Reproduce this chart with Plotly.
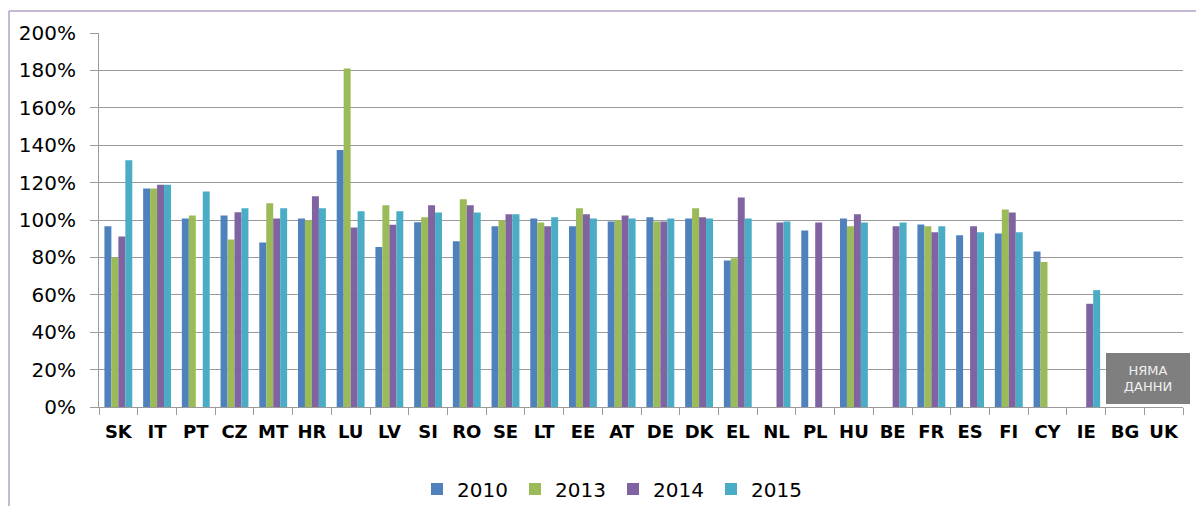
import plotly.graph_objects as go

categories = ["SK", "IT", "PT", "CZ", "MT", "HR", "LU", "LV", "SI", "RO", "SE", "LT", "EE", "AT",
              "DE", "DK", "EL", "NL", "PL", "HU", "BE", "FR", "ES", "FI", "CY", "IE", "BG", "UK"]

v2010 = [96.7, 116.8, 100.8, 102.4, 88.0, 100.8, 137.5, 85.5, 98.8, 88.7, 96.7, 100.8, 96.7, 99.2,
         101.5, 100.8, 78.4, None, 94.4, 100.8, None, 97.6, 91.9, 92.8, 83.2, None, None, None]
v2013 = [79.9, 116.8, 102.4, 89.6, 109.0, 99.9, 181.0, 107.9, 101.5, 111.1, 99.9, 98.7, 106.3, 99.9,
         99.2, 106.3, 79.5, None, None, 96.7, None, 96.7, None, 105.6, 77.5, None, None, None]
v2014 = [91.2, 118.9, None, 104.2, 100.8, 112.7, 96.0, 97.4, 107.9, 107.9, 103.1, 96.7, 103.1, 102.4,
         99.2, 101.5, 112.0, 98.7, 98.7, 103.1, 96.7, 93.5, 96.7, 104.0, None, 55.2, None, None]
v2015 = [131.9, 118.9, 115.2, 106.3, 106.3, 106.3, 104.7, 104.7, 104.0, 104.0, 103.1, 101.5, 100.8, 100.8,
         100.8, 100.8, 100.8, 99.2, None, 98.7, 98.7, 96.7, 93.5, 93.5, None, 62.5, None, None]

series = [("2010", v2010, "#4F81BD"), ("2013", v2013, "#9BBB59"),
          ("2014", v2014, "#8064A2"), ("2015", v2015, "#4BACC6")]

tick_vals = [0, 20, 40, 60, 80, 100, 120, 140, 160, 180, 200]
tick_text = [f"{v}%" for v in tick_vals]

fig = go.Figure()
for name, vals, color in series:
    fig.add_trace(go.Bar(x=categories, y=vals, name=name, marker=dict(color=color, line=dict(width=0))))

W, H = 1196, 506
# plot-area edges in page pixels
PL_, PR_, PT_, PB_ = 99, 1183, 33, 407
L, T = PL_, PT_
R, B = W - PR_, H - PB_
pw, ph = W - L - R, H - T - B

def px_x(p):
    return (p - L) / pw

def px_y(p):
    return (PB_ - p) / ph

frame = dict(color="#b3a2c7", width=1.5)

fig.update_layout(
    width=W, height=H,
    margin=dict(l=L, r=R, t=T, b=B, pad=0, autoexpand=False),
    paper_bgcolor="white", plot_bgcolor="white",
    barmode="group", bargap=0.28, bargroupgap=0,
    font=dict(family="DejaVu Sans", color="black"),
    showlegend=True,
    legend=dict(orientation="h", x=px_x(417), y=px_y(489), xanchor="left", yanchor="middle",
                font=dict(size=20, family="DejaVu Sans", color="black"),
                itemwidth=30, entrywidth=53, entrywidthmode="pixels", traceorder="normal"),
    xaxis=dict(
        type="category", showgrid=False, showline=True, linecolor="#9a9a9a", linewidth=1,
        ticks="outside", ticklen=7, tickcolor="#9a9a9a", tickson="boundaries",
        tickangle=0, automargin=False,
        tickfont=dict(size=18, family="DejaVu Sans", color="black", weight="bold"),
        ticklabelstandoff=8,
    ),
    yaxis=dict(
        range=[0, 200], tickvals=tick_vals, ticktext=tick_text, automargin=False,
        showgrid=True, gridcolor="#9a9a9a", gridwidth=1,
        showline=True, linecolor="#9a9a9a", linewidth=1,
        ticks="outside", ticklen=8, tickcolor="#9a9a9a",
        tickfont=dict(size=20, family="DejaVu Sans", color="black"),
        ticklabelstandoff=10, zeroline=False,
    ),
    shapes=[
        dict(type="line", xref="paper", yref="paper",
             x0=px_x(9), x1=px_x(1200), y0=px_y(11), y1=px_y(11), line=frame, layer="below"),
        dict(type="line", xref="paper", yref="paper",
             x0=px_x(9), x1=px_x(9), y0=px_y(11), y1=px_y(510), line=frame, layer="below"),
    ],
    annotations=[
        dict(xref="paper", yref="paper", x=px_x(1148), y=px_y(378.5), xanchor="center", yanchor="middle",
             text="НЯМА<br>ДАННИ", showarrow=False, bgcolor="#7f7f7f", width=80, height=47,
             borderpad=1, bordercolor="#7f7f7f",
             font=dict(size=13, family="DejaVu Sans", color="#f0f0f0")),
    ],
)

fig.write_html(
    "out.html",
    config={"displayModeBar": False},
    post_script="document.body.style.margin='0';document.body.style.overflow='hidden';",
)
